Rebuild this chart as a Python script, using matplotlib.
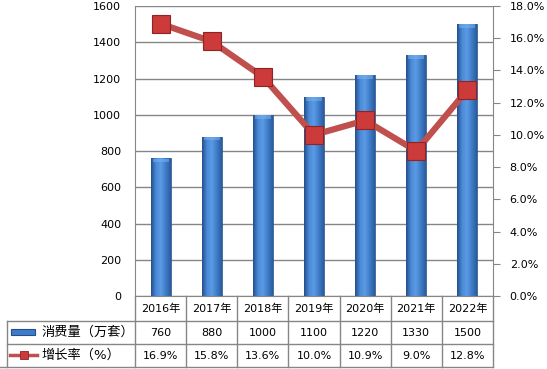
import numpy as np
import matplotlib
matplotlib.use("Agg")
import matplotlib.pyplot as plt
from matplotlib.lines import Line2D
from matplotlib.patches import Rectangle
from matplotlib.colors import LinearSegmentedColormap

plt.rcParams['font.family'] = ['DejaVu Sans', 'Noto Sans CJK SC']

years = ['2016年', '2017年', '2018年', '2019年', '2020年', '2021年', '2022年']
consumption = [760, 880, 1000, 1100, 1220, 1330, 1500]
growth = [16.9, 15.8, 13.6, 10.0, 10.9, 9.0, 12.8]
bar_label = '消费量（万套）'
line_label = '增长率（%）'

W, H = 547, 369
fig = plt.figure(figsize=(W / 100, H / 100), dpi=100)


def fx(x):
    return x / W


def fy(y):
    return 1 - y / H


grid_c = '#868686'
left, right, top, bottom = 135, 493, 6, 296
ax = fig.add_axes([fx(left), fy(bottom), fx(right - left), (bottom - top) / H])
ax.set_xlim(-0.5, len(years) - 0.5)
ax.set_ylim(0, 1600)
ax.set_yticks(range(0, 1601, 200))
ax.set_xticks([])
ax.tick_params(axis='y', length=0, pad=10, labelsize=8, colors='black')
ax.grid(axis='y', color=grid_c, lw=1)
ax.set_axisbelow(True)
for s in ax.spines.values():
    s.set_color(grid_c)
ax.spines['top'].set_visible(False)

# gradient bars
cmap = LinearSegmentedColormap.from_list('b', ['#23508c', '#4a8ad8', '#5c9ae4', '#3f7cc8', '#2a5c9e'])
grad = np.linspace(0, 1, 64).reshape(1, -1)
bars = ax.bar(range(len(years)), consumption, width=0.39, color='none', edgecolor='#2a5590', lw=0.6, zorder=2)
for b in bars:
    x0, w, h = b.get_x(), b.get_width(), b.get_height()
    im = ax.imshow(grad, cmap=cmap, extent=[x0, x0 + w, 0, h], aspect='auto', zorder=2)
    im.set_clip_path(b)
    ax.add_patch(Rectangle((x0 + w * 0.1, h - 22), w * 0.8, 20, color='#7fb5f0', alpha=0.5, lw=0, zorder=2.5))
ax.set_xlim(-0.5, len(years) - 0.5)
ax.set_ylim(0, 1600)

ax2 = ax.twinx()
ax2.set_ylim(0, 18)
ax2.set_yticks(range(0, 19, 2))
ax2.set_yticklabels([f'{v:.1f}%' for v in range(0, 19, 2)])
ax2.tick_params(axis='y', length=5, color=grid_c, pad=7, labelsize=8, colors='black')
ax2.tick_params(axis='y', color=grid_c)
for s in ax2.spines.values():
    s.set_visible(False)
ax2.plot(range(len(years)), growth, color='#c0504d', lw=4.5, marker='s', markersize=12.5,
         markerfacecolor='#cc3a3a', markeredgecolor='#8e2424', markeredgewidth=0.8, zorder=3)

# data table
colw = (right - left) / len(years)


def hline(y, x0, x1):
    fig.add_artist(Line2D([fx(x0), fx(x1)], [fy(y), fy(y)], color=grid_c, lw=1))


def vline(x, y0, y1):
    fig.add_artist(Line2D([fx(x), fx(x)], [fy(y0), fy(y1)], color=grid_c, lw=1))


hline(321, 7, right)
hline(344, 7, right)
hline(367, 0, right)
vline(7, 321, 367)
for k in range(len(years) + 1):
    vline(left + k * colw, bottom, 367)

for i, yr in enumerate(years):
    cx = fx(left + (i + 0.5) * colw)
    fig.text(cx, fy(309), yr, ha='center', va='center', fontsize=8)
    fig.text(cx, fy(333), str(consumption[i]), ha='center', va='center', fontsize=8)
    fig.text(cx, fy(356), f'{growth[i]:.1f}%', ha='center', va='center', fontsize=8)

fig.add_artist(Rectangle((fx(11), fy(335)), fx(24), 6 / H, transform=fig.transFigure,
                         facecolor='#3f7cc8', edgecolor='#23508c', lw=0.8))
fig.add_artist(Line2D([fx(10), fx(37)], [fy(355), fy(355)], color='#c0504d', lw=2.5))
fig.add_artist(Line2D([fx(23.5)], [fy(355)], marker='s', markersize=6, color='#cc3a3a',
                      markeredgecolor='#8e2424', markeredgewidth=0.6))
fig.text(fx(41), fy(332), bar_label, ha='left', va='center', fontsize=9.5)
fig.text(fx(41), fy(355), line_label, ha='left', va='center', fontsize=9.5)

fig.savefig('out.png', dpi=100)
